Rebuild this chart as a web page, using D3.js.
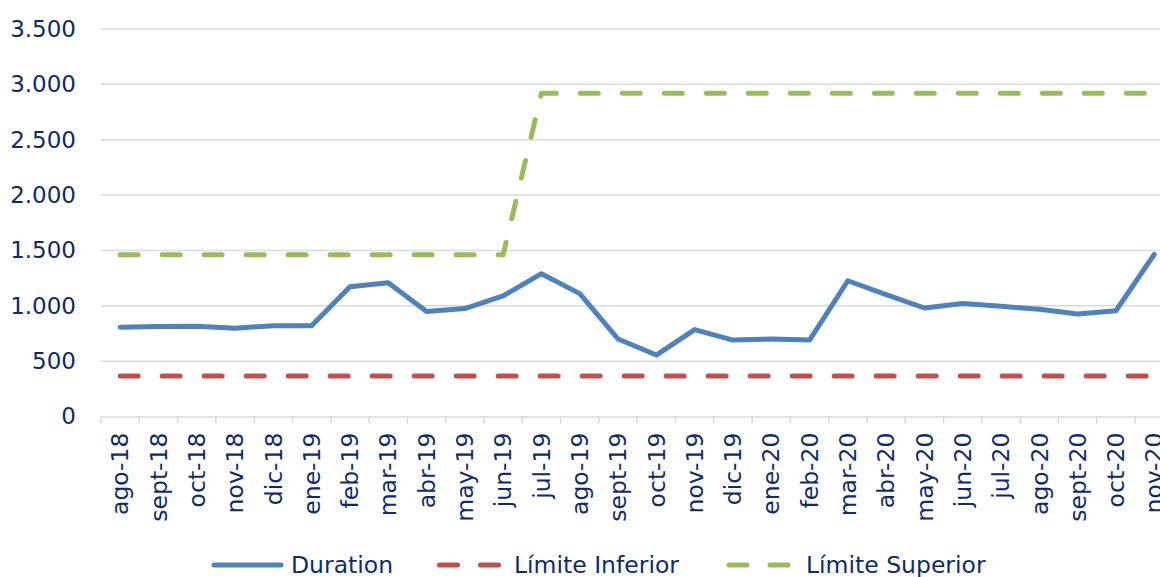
<!DOCTYPE html>
<html>
<head>
<meta charset="utf-8">
<script src="https://cdn.jsdelivr.net/npm/d3@7"></script>
<style>
  html, body { margin: 0; padding: 0; background: #fff; }
  svg { display: block; }
  text { font-family: Verdana, "DejaVu Sans", sans-serif; fill: #0f2a6b; }
</style>
</head>
<body>
<svg id="chart" width="1160" height="577"></svg>
<script>
const categories = ["ago-18","sept-18","oct-18","nov-18","dic-18","ene-19","feb-19","mar-19","abr-19","may-19","jun-19","jul-19","ago-19","sept-19","oct-19","nov-19","dic-19","ene-20","feb-20","mar-20","abr-20","may-20","jun-20","jul-20","ago-20","sept-20","oct-20","nov-20"];
const duration = [806, 812, 815, 797, 820, 820, 1172, 1209, 948, 975, 1090, 1290, 1110, 700, 555, 785, 690, 700, 690, 1226, 1100, 980, 1020, 995, 968, 926, 955, 1465];
const limiteInferior = [365, 365, 365, 365, 365, 365, 365, 365, 365, 365, 365, 365, 365, 365, 365, 365, 365, 365, 365, 365, 365, 365, 365, 365, 365, 365, 365, 365];
const limiteSuperior = [1460, 1460, 1460, 1460, 1460, 1460, 1460, 1460, 1460, 1460, 1460, 2920, 2920, 2920, 2920, 2920, 2920, 2920, 2920, 2920, 2920, 2920, 2920, 2920, 2920, 2920, 2920, 2920];
const yTicks = [0, 500, 1000, 1500, 2000, 2500, 3000, 3500];
const seriesNames = ["Duration", "Límite Inferior", "Límite Superior"];

(function () {
const svg = d3.select("#chart");
const mLeft = 101, mTop = 29, mBottom = 416.5;
const step = 38.3;
const mRight = mLeft + categories.length * step;

const x = d3.scaleBand().domain(categories).range([mLeft, mRight]).padding(0);
const y = d3.scaleLinear().domain([0, 3500]).range([mBottom, mTop]);
const cx = d => x(d) + x.bandwidth() / 2;

// gridlines
svg.append("g").selectAll("line").data(yTicks.filter(t => t > 0)).join("line")
  .attr("x1", mLeft).attr("x2", mRight)
  .attr("y1", d => y(d)).attr("y2", d => y(d))
  .attr("stroke", "#d9d9d9").attr("stroke-width", 1.5);

// y axis labels
const yAxis = d3.axisLeft(y).tickValues(yTicks).tickSize(0).tickPadding(0)
  .tickFormat(d => d3.format(",")(d).replace(/,/g, "."));
const gy = svg.append("g").attr("transform", `translate(${mLeft - 25},0)`).call(yAxis);
gy.select(".domain").remove();
gy.selectAll("text").style("font-size", "23px").attr("fill", "#0f2a6b")
  .style("font-family", 'Verdana, "DejaVu Sans", sans-serif');

// x axis
const xAxis = d3.axisBottom(x).tickSize(0).tickPadding(0);
const gx = svg.append("g").attr("transform", `translate(0,${mBottom})`).call(xAxis);
gx.select(".domain").attr("stroke", "#d9d9d9").attr("stroke-width", 1.5);
gx.selectAll(".tick line").remove();
gx.selectAll("text")
  .style("font-size", "23.5px").attr("fill", "#0f2a6b")
  .style("font-family", 'Verdana, "DejaVu Sans", sans-serif')
  .attr("text-anchor", "end")
  .attr("transform", "translate(0,16) rotate(-90)")
  .attr("x", 0).attr("y", 0).attr("dy", "0.35em");

// tick marks at band boundaries
const boundaries = categories.map(c => x(c)).concat([mRight]);
svg.append("g").selectAll("line").data(boundaries).join("line")
  .attr("x1", d => d).attr("x2", d => d)
  .attr("y1", mBottom).attr("y2", mBottom + 7)
  .attr("stroke", "#d9d9d9").attr("stroke-width", 1.5);

const line = d3.line().x((d, i) => cx(categories[i])).y(d => y(d));

svg.append("path").datum(limiteInferior).attr("d", line)
  .attr("fill", "none").attr("stroke", "#c0504d").attr("stroke-width", 5)
  .attr("stroke-linecap", "round").attr("stroke-dasharray", "18,24");

svg.append("path").datum(limiteSuperior).attr("d", line)
  .attr("fill", "none").attr("stroke", "#9bbb59").attr("stroke-width", 5)
  .attr("stroke-linecap", "round").attr("stroke-linejoin", "round").attr("stroke-dasharray", "18,24");

svg.append("path").datum(duration).attr("d", line)
  .attr("fill", "none").attr("stroke", "#4f81bd").attr("stroke-width", 5)
  .attr("stroke-linecap", "round").attr("stroke-linejoin", "round");

// legend
const legendY = 565;
const legendItems = [
  { name: seriesNames[0], color: "#4f81bd", x1: 214, x2: 281, dash: null, tx: 291 },
  { name: seriesNames[1], color: "#c0504d", x1: 439.5, x2: 499, dash: "18,23", tx: 514 },
  { name: seriesNames[2], color: "#9bbb59", x1: 729, x2: 790, dash: "18,23", tx: 806 }
];
const lg = svg.append("g");
legendItems.forEach(it => {
  const l = lg.append("line").attr("x1", it.x1).attr("x2", it.x2)
    .attr("y1", legendY).attr("y2", legendY)
    .attr("stroke", it.color).attr("stroke-width", 5).attr("stroke-linecap", "round");
  if (it.dash) l.attr("stroke-dasharray", it.dash);
  lg.append("text").attr("x", it.tx).attr("y", legendY).attr("dy", "0.35em")
    .style("font-size", "23.5px").text(it.name);
});
})();
</script>
</body>
</html>
